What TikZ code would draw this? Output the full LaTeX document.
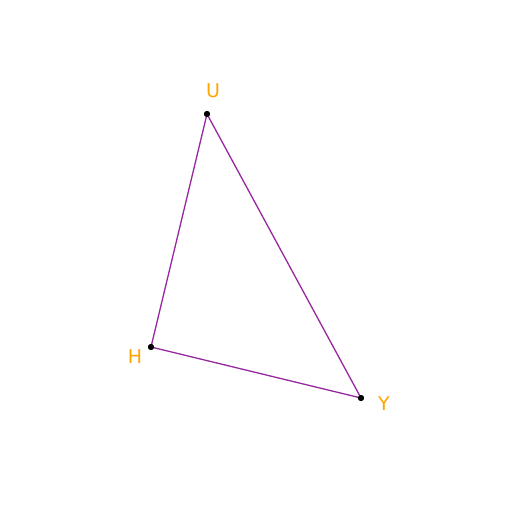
\documentclass[tikz,border=0pt]{standalone}
\usepackage{fontspec}
\setmainfont{DejaVu Sans}
\definecolor{edgecol}{RGB}{150,40,160}
\definecolor{labcol}{RGB}{255,165,0}
\begin{document}
\begin{tikzpicture}[x=1pt,y=-1pt,
  pt/.style={circle,fill=black,inner sep=0pt,minimum size=6pt},
  lab/.style={text=labcol,font=\fontsize{19}{22}\selectfont,inner sep=0pt},
  edge/.style={draw=edgecol,line width=1.3pt}]
\useasboundingbox[fill=white] (0,0) rectangle (512,512);
\node[pt] (U) at (207,114) {};
\node[pt] (H) at (151,347) {};
\node[pt] (Y) at (361,398) {};
\node[lab] (lU) at (213,91) {U};
\node[lab] (lH) at (135,357) {H};
\node[lab] (lY) at (384,404) {Y};
\draw[edge] (U.center) -- (H.center) -- (Y.center) -- (U.center);
\node[pt] at (U) {};
\node[pt] at (H) {};
\node[pt] at (Y) {};
\end{tikzpicture}
\end{document}
